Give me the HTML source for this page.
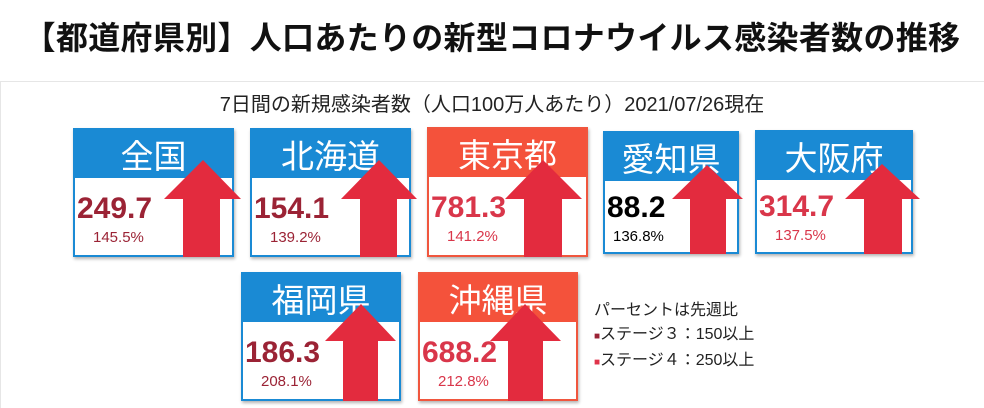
<!DOCTYPE html>
<html><head><meta charset="utf-8"><style>
body{margin:0;width:984px;height:408px;background:#fff;position:relative;overflow:hidden;font-family:"Liberation Sans","Noto Sans CJK JP",sans-serif}
.t{position:absolute;left:0;width:984px;top:13px;text-align:center;font-size:32px;font-weight:bold;color:#111;font-family:"Noto Sans CJK JP",sans-serif;letter-spacing:0.3px}
.line{position:absolute;left:0;top:81px;width:984px;height:1px;background:#e6e6e6}
.vline{position:absolute;left:0;top:82px;width:1px;height:326px;background:#e6e6e6}
.sub{position:absolute;left:0;width:984px;top:88px;text-align:center;font-size:20px;color:#222;font-family:"Liberation Sans","Noto Sans CJK JP",sans-serif}
.c{position:absolute;background:#fff;box-shadow:1px 2px 3px rgba(0,0,0,.3);box-sizing:border-box;border:2px solid #1a8ad4}
.c.o{border-color:#f0563e}
.h{position:absolute;left:0;top:0;right:0;height:48px;background:#1a8ad4;color:#fff;font-size:33px;text-align:center;line-height:48px;font-family:"Noto Sans CJK JP",sans-serif}
.o .h{background:#f4523b}
.n{position:absolute;left:2px;top:62px;font-size:30px;font-weight:bold;color:#9b2335}
.p{position:absolute;left:18px;top:99px;font-size:15px;color:#9b2335}
.red .n,.red .p{color:#d9364a}
.blk .n,.blk .p{color:#000}
svg{position:absolute;left:0;top:0;z-index:5}
.leg{position:absolute;left:594px;top:299px;font-size:16px;line-height:24px;color:#222}
</style></head><body>
<div class="t">【都道府県別】人口あたりの新型コロナウイルス感染者数の推移</div>
<div class="line"></div><div class="vline"></div>
<div class="sub">7日間の新規感染者数（人口100万人あたり）2021/07/26現在</div>

<div class="c" style="left:73px;top:128px;width:161px;height:129px"><div class="h">全国</div><div class="n">249.7</div><div class="p">145.5%</div></div>
<div class="c" style="left:250px;top:128px;width:161px;height:129px"><div class="h">北海道</div><div class="n">154.1</div><div class="p">139.2%</div></div>
<div class="c o red" style="left:427px;top:127px;width:161px;height:130px"><div class="h">東京都</div><div class="n">781.3</div><div class="p">141.2%</div></div>
<div class="c blk" style="left:603px;top:131px;width:136px;height:123px"><div class="h">愛知県</div><div class="n" style="top:58px">88.2</div><div class="p" style="left:8px;top:95px">136.8%</div></div>
<div class="c red" style="left:755px;top:130px;width:158px;height:124px"><div class="h">大阪府</div><div class="n" style="top:58px">314.7</div><div class="p" style="top:95px">137.5%</div></div>
<div class="c" style="left:241px;top:272px;width:160px;height:129px"><div class="h">福岡県</div><div class="n">186.3</div><div class="p">208.1%</div></div>
<div class="c o red" style="left:418px;top:272px;width:160px;height:129px"><div class="h">沖縄県</div><div class="n">688.2</div><div class="p">212.8%</div></div>

<svg width="984" height="408" viewBox="0 0 984 408">
<g fill="#e32b3e">
<polygon points="203,160 241,199 220,199 220,257 183,257 183,199 164,199"/>
<polygon points="379,160 417,199 397,199 397,257 360,257 360,199 341,199"/>
<polygon points="543,160 582,199 562,199 562,257 524,257 524,199 505,199"/>
<polygon points="707,165 743,199 726,199 726,254 690,254 690,199 672,199"/>
<polygon points="882,164 920,199 902,199 902,254 864,254 864,199 845,199"/>
<polygon points="361,304 396,341 378,341 378,401 343,401 343,341 325,341"/>
<polygon points="525,304 561,341 543,341 543,401 508,401 508,341 490,341"/>
</g></svg>

<div class="leg">パーセントは先週比<br><span style="color:#9b2335;font-size:10px">■</span>ステージ３：150以上<br><span style="color:#e0334a;font-size:10px">■</span>ステージ４：250以上</div>
</body></html>
